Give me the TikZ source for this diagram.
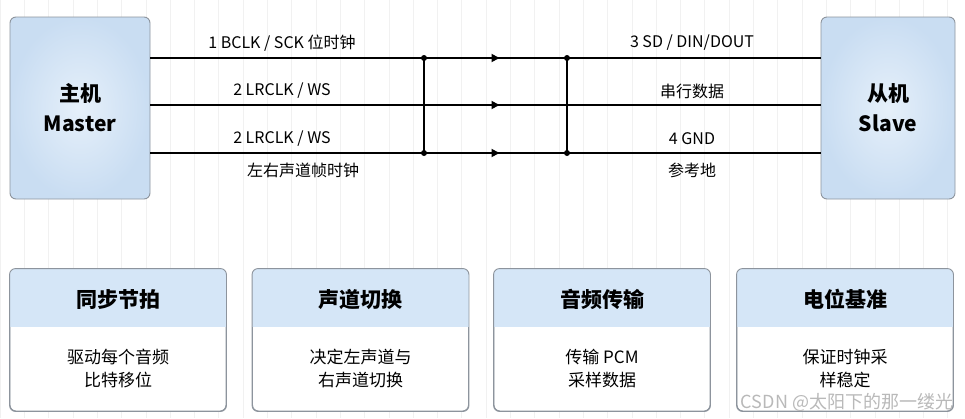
\documentclass[tikz,border=0pt]{standalone}
\usepackage{fontspec}
\setmainfont{Noto Sans CJK SC}
\usetikzlibrary{arrows.meta,calc,positioning}
\definecolor{chipblue}{HTML}{C9DDF2}
\definecolor{chiplight}{HTML}{E6F0FA}
\definecolor{hdrblue}{HTML}{D5E6F7}
\definecolor{edgegray}{HTML}{8D949D}
\definecolor{gridgray}{HTML}{F1F1F1}

\begin{document}
\begin{tikzpicture}[x=1pt,y=-1pt]
\tikzstyle{chip}=[draw=edgegray,line width=0.9pt,rounded corners=6pt,inner color=chiplight,outer color=chipblue,minimum height=182pt,align=center,font=\fontsize{21}{30}\selectfont\bfseries]
\tikzstyle{wire}=[line width=1.8pt]
\tikzstyle{sig}=[font=\fontsize{16}{19}\selectfont]
\tikzstyle{card}=[draw=edgegray,line width=0.9pt,rounded corners=6pt,fill=white,minimum width=216pt,minimum height=142pt]
\tikzstyle{cardtitle}=[font=\fontsize{21}{25}\selectfont\bfseries]
\tikzstyle{cardbody}=[font=\fontsize{17}{23}\selectfont,align=center]

\useasboundingbox (0,0) rectangle (965,418);
\fill[white] (0,0) rectangle (965,418);
\draw[gridgray,line width=0.6pt,step=24.3] (0,0) grid (965,418);

% the two chips
\node[chip,minimum width=140pt] (master) at (80,108) {主机\\Master};
\node[chip,minimum width=134pt] (slave) at (888,108) {从机\\Slave};

\foreach \r/\y in {1/58,2/105,3/153} {
  \coordinate (a\r) at (424,\y);
  \coordinate (b\r) at (567,\y);
  \draw[wire] (master.east |- a\r) -- (a\r) -- (b\r) -- (slave.west |- b\r);
  \draw[wire,-{Triangle[length=8pt,width=8pt]}] (a\r) -- ($(a\r)!0.5!(b\r)+(4,0)$);
}
\draw[wire] (a1) -- (a3);
\draw[wire] (b1) -- (b3);
\foreach \p in {a1,a3,b1,b3}
  \fill (\p) circle (3);

\node[sig] (bclk) at (282,43) {1 BCLK / SCK 位时钟};
\node[sig] (ws1) at (282,91) {2 LRCLK / WS};
\node[sig] (ws2) at (282,139) {2 LRCLK / WS};
\node[sig] (wsnote) at (303,170) {左右声道帧时钟};
\node[sig] (sd) at (692,43) {3 SD / DIN/DOUT};
\node[sig] (sdnote) at (692,91) {串行数据};
\node[sig] (gnd) at (692,139) {4 GND};
\node[sig] (gndnote) at (692,170) {参考地};

% function cards
\foreach \i/\x/\title/\la/\lb in {1/118/同步节拍/驱动每个音频/比特移位,
    2/360.5/声道切换/决定左声道与/右声道切换,
    3/602/音频传输/传输 PCM/采样数据,
    4/845/电位基准/保证时钟采/样稳定} {
  \node[card] (card\i) at (\x,340) {};
  \begin{scope}
    \clip[rounded corners=6pt] (card\i.north west) rectangle (card\i.south east);
    \fill[hdrblue] (card\i.north west) rectangle ($(card\i.north east)+(0,58)$);
  \end{scope}
  \draw[edgegray,line width=0.9pt,rounded corners=6pt] (card\i.north west) rectangle (card\i.south east);
  \node[cardtitle] (title\i) at ($(card\i.north)+(0,31)$) {\title};
  \node[cardbody] (body\i) at ($(card\i.north)+(0,100)$) {\la\\\lb};
}

\node[gray!55,font=\fontsize{18}{20}\selectfont] (mark) at (847,402) {CSDN @太阳下的那一缕光};
\end{tikzpicture}
\end{document}
